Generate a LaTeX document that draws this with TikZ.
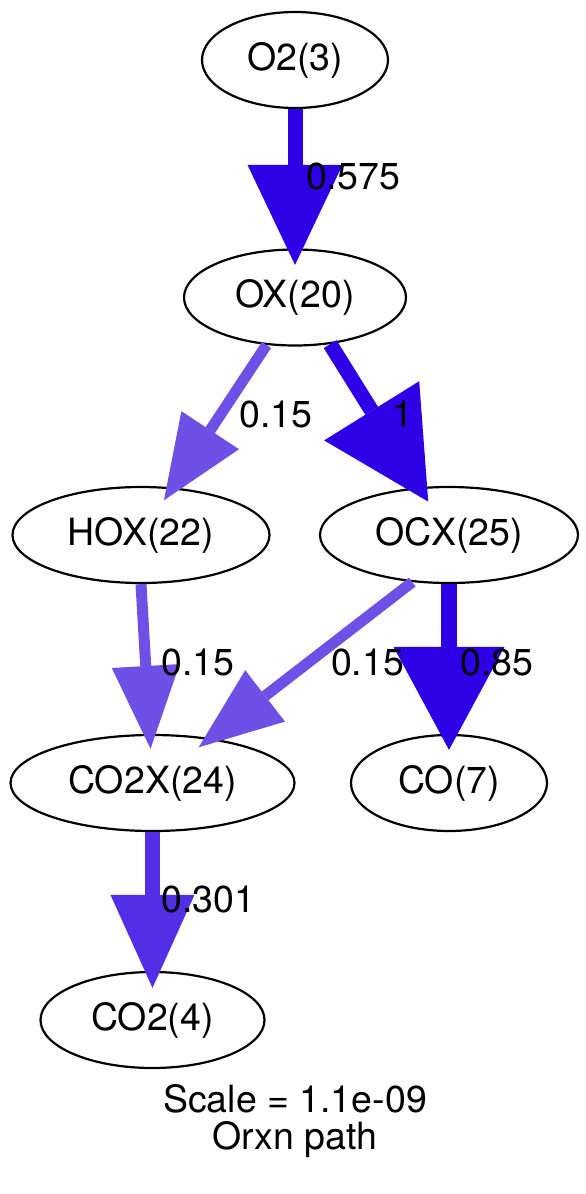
\documentclass[tikz,border=0pt]{standalone}
\usepackage{fontspec}
\setmainfont{TeX Gyre Heros}
\usetikzlibrary{arrows.meta,shapes.geometric}
\definecolor{fluxfull}{RGB}{46,0,230}
\definecolor{fluxmid}{RGB}{82,46,230}
\definecolor{fluxlow}{RGB}{110,80,230}
\begin{document}
\begin{tikzpicture}[x=1pt,y=-1pt,
  species/.style={ellipse,draw=black,line width=2.2pt,inner sep=0pt,minimum height=96pt,
    font=\fontsize{37.5}{45}\selectfont},
  lbl/.style={font=\fontsize{37.5}{45}\selectfont,inner sep=0pt},
  bigflux/.style={draw=fluxfull,line width=15pt},
  midflux/.style={draw=fluxmid,line width=15pt},
  lowflux/.style={draw=fluxlow,line width=11pt},
  tip/.style 2 args={-{Triangle[length=#1pt,width=#2pt,line width=0pt]}},
]
\useasboundingbox (0,0) rectangle (586,1194);
% species
\node[species,minimum width=186pt] (o2) at (295,60) {O2(3)};
\node[species,minimum width=222pt] (ox) at (295,297.5) {OX(20)};
\node[species,minimum width=257pt] (hox) at (141,535) {HOX(22)};
\node[species,minimum width=258pt] (ocx) at (449,535) {OCX(25)};
\node[species,minimum width=284pt] (co2x) at (152.5,783) {CO2X(24)};
\node[species,minimum width=196pt] (co) at (449,783) {CO(7)};
\node[species,minimum width=224pt] (co2) at (152.5,1020) {CO2(4)};
% fluxes
\draw[bigflux,tip={100}{95},shorten >=-16.5pt] (o2) -- (ox);
\draw[lowflux,tip={84}{69},shorten >=-15.5pt] (ox.239) -- (hox);
\draw[bigflux,tip={107}{112},shorten >=-17pt] (ox.307) -- (ocx);
\draw[lowflux,tip={83}{68},shorten >=-15pt] (hox.south) -- (co2x);
\draw[lowflux,tip={84}{65},shorten >=-15pt] (ocx.232) -- (co2x);
\draw[bigflux,line width=16pt,tip={103}{111},shorten >=-16pt] (ocx) -- (co);
\draw[midflux,tip={93}{84},shorten >=-17pt] (co2x) -- (co2);
% labels
\node[lbl] (l1) at (353,176) {0.575};
\node[lbl] (l2) at (276,414) {0.15};
\node[lbl] (l3) at (402.5,414) {1};
\node[lbl] (l4) at (198,662) {0.15};
\node[lbl] (l5) at (367.5,662) {0.15};
\node[lbl] (l6) at (497,662) {0.85};
\node[lbl] (l7) at (208.5,899) {0.301};
\node[lbl] (scale) at (295,1099) {Scale = 1.1e-09};
\node[lbl] (title) at (295,1140) {Orxn path};
\end{tikzpicture}
\end{document}
